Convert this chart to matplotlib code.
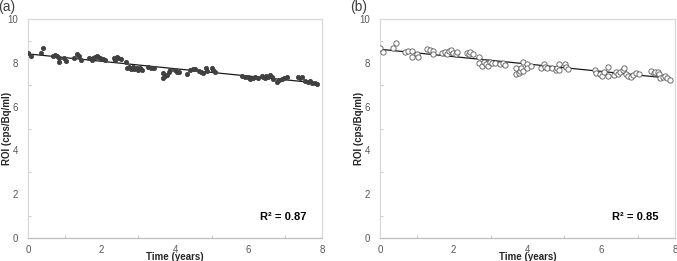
import numpy as np
import matplotlib.pyplot as plt

plt.rcParams["font.family"] = ["Liberation Sans", "DejaVu Sans"]

# panel (a): ROI values over time, filled markers
time_a = [0.01, 0.08, 0.34, 0.42, 0.67, 0.73, 0.78, 0.83, 0.84, 0.99, 1.02,
          1.25, 1.32, 1.39, 1.43, 1.67, 1.73, 1.78, 1.82, 1.87, 1.91, 1.96,
          2.05, 2.10, 2.35, 2.37, 2.41, 2.46, 2.52, 2.67, 2.68, 2.76, 2.80,
          2.85, 2.89, 2.96, 3.00, 3.05, 3.11, 3.27, 3.34, 3.43, 3.66, 3.68,
          3.73, 3.77, 3.84, 3.86, 4.00, 4.05, 4.12, 4.34, 4.41, 4.48, 4.54,
          4.65, 4.71, 4.77, 4.83, 4.86, 5.00, 5.04, 5.09, 5.83, 5.90, 5.99,
          6.04, 6.13, 6.19, 6.27, 6.36, 6.40, 6.45, 6.49, 6.54, 6.59, 6.63,
          6.68, 6.77, 6.84, 6.90, 6.97, 7.04, 7.34, 7.40, 7.46, 7.54, 7.63,
          7.67, 7.74, 7.81, 7.87]
roi_a = [8.43, 8.33, 8.46, 8.66, 8.33, 8.36, 8.33, 8.23, 8.05, 8.23, 8.08,
         8.23, 8.39, 8.33, 8.13, 8.22, 8.13, 8.20, 8.25, 8.31, 8.28, 8.20,
         8.16, 8.13, 8.20, 8.13, 8.28, 8.20, 8.16, 8.05, 7.76, 7.79, 7.70,
         7.82, 7.72, 7.75, 7.67, 7.75, 7.67, 7.82, 7.75, 7.75, 7.29, 7.52,
         7.41, 7.44, 7.56, 7.67, 7.67, 7.60, 7.60, 7.49, 7.67, 7.70, 7.70,
         7.62, 7.60, 7.55, 7.75, 7.62, 7.75, 7.67, 7.60, 7.40, 7.37, 7.34,
         7.25, 7.32, 7.37, 7.29, 7.41, 7.34, 7.29, 7.40, 7.37, 7.44, 7.34,
         7.26, 7.14, 7.21, 7.26, 7.31, 7.37, 7.37, 7.32, 7.37, 7.18, 7.14,
         7.17, 7.09, 7.06, 7.03]

# panel (b): ROI values over time, open markers
time_b = [0.00, 0.09, 0.34, 0.43, 0.68, 0.77, 0.86, 0.86, 1.01, 1.02, 1.27,
          1.36, 1.43, 1.45, 1.68, 1.77, 1.81, 1.86, 1.93, 1.99, 2.07, 2.10,
          2.36, 2.42, 2.45, 2.52, 2.69, 2.69, 2.76, 2.83, 2.87, 2.94, 2.99,
          3.03, 3.11, 3.26, 3.33, 3.38, 3.69, 3.69, 3.76, 3.79, 3.83, 3.87,
          3.87, 4.00, 4.00, 4.09, 4.37, 4.44, 4.48, 4.53, 4.66, 4.76, 4.80,
          4.85, 4.85, 5.01, 5.05, 5.10, 5.84, 5.86, 5.98, 6.03, 6.07, 6.18,
          6.18, 6.34, 6.39, 6.46, 6.52, 6.60, 6.61, 6.68, 6.73, 6.80, 6.86,
          6.93, 7.02, 7.34, 7.43, 7.47, 7.54, 7.56, 7.59, 7.68, 7.74, 7.79,
          7.86]
roi_b = [8.66, 8.48, 8.66, 8.89, 8.48, 8.54, 8.54, 8.28, 8.39, 8.28, 8.61,
         8.58, 8.54, 8.39, 8.43, 8.48, 8.39, 8.55, 8.58, 8.43, 8.39, 8.48,
         8.46, 8.39, 8.51, 8.40, 8.25, 7.98, 7.87, 8.05, 7.95, 7.87, 8.05,
         7.98, 8.01, 7.93, 8.01, 7.90, 7.78, 7.49, 7.55, 7.64, 7.75, 7.63,
         8.05, 7.93, 7.78, 7.85, 7.75, 7.95, 7.82, 7.75, 7.75, 7.67, 7.78,
         7.95, 7.67, 7.93, 7.82, 7.72, 7.67, 7.55, 7.49, 7.40, 7.60, 7.82,
         7.40, 7.44, 7.60, 7.49, 7.60, 7.67, 7.75, 7.49, 7.41, 7.37, 7.44,
         7.55, 7.49, 7.63, 7.52, 7.60, 7.60, 7.49, 7.32, 7.37, 7.40, 7.32,
         7.21]

panel_labels = ["(a)", "(b)"]
r2_labels = ["R\u00b2 = 0.87", "R\u00b2 = 0.85"]

fig = plt.figure(figsize=(6.77, 2.61), dpi=100)
axes = [fig.add_axes([0.0414, 0.0881, 0.4342, 0.8391]),
        fig.add_axes([0.5613, 0.0881, 0.4357, 0.8391])]

datasets = [(time_a, roi_a, "#404040", "#404040"),
            (time_b, roi_b, "white", "#595959")]

for ax, (t, r, face, edge), plab, r2 in zip(axes, datasets, panel_labels, r2_labels):
    t = np.asarray(t)
    r = np.asarray(r)
    ax.plot(t, r, "o", ms=3.0 if face != "white" else 3.8,
            mfc=face, mec=edge, mew=0.6, zorder=3)

    # linear trend line
    slope, icpt = np.polyfit(t, r, 1)
    xs = np.array([t.min(), t.max()])
    ax.plot(xs, slope * xs + icpt, color="#1a1a1a", lw=0.9, zorder=2)

    ax.set_xlim(0, 8)
    ax.set_ylim(0, 10)
    ax.set_xticks([0, 2, 4, 6, 8])
    ax.set_yticks([0, 2, 4, 6, 8, 10])
    ax.set_xticks([1, 3, 5, 7], minor=True)
    ax.set_yticks([1, 3, 5, 7, 9], minor=True)
    ax.tick_params(which="major", length=0, labelsize=7, labelcolor="#595959")
    ax.tick_params(axis="y", which="major", pad=7)
    ax.tick_params(axis="x", which="major", pad=5)
    ax.tick_params(which="minor", direction="in", length=2.5, width=0.6,
                   color="#bfbfbf")

    for side in ["top", "right", "left"]:
        ax.spines[side].set_color("#d9d9d9")
        ax.spines[side].set_linewidth(0.9)
    ax.spines["bottom"].set_color("#bfbfbf")
    ax.spines["bottom"].set_linewidth(0.9)

    ax.set_xlabel("Time (years)", fontsize=7, fontweight="bold", color="#262626",
                  va="center")
    ax.xaxis.set_label_coords(0.5, -0.086)
    ax.set_ylabel("ROI (cps/Bq/ml)", fontsize=7, fontweight="bold", color="#262626",
                  va="center")
    ax.yaxis.set_label_coords(-0.071, 0.5)

    ax.text(6.3, 0.96, r2, fontsize=8, fontweight="bold", color="black",
            va="center", ha="left")
    ax.text(-0.071, 1.055, plab, transform=ax.transAxes, fontsize=10,
            color="#404040", ha="center", va="center")

fig.savefig("out.png", dpi=100)
